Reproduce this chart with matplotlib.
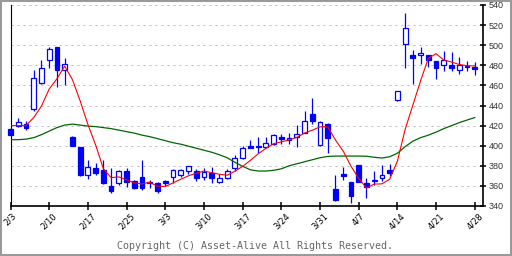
import numpy as np
import pandas as pd
import matplotlib
matplotlib.use("Agg")
import matplotlib.pyplot as plt
from matplotlib.patches import Rectangle

# daily candles
opens = [417, 420, 422, 437, 462, 485, 498, 475, 409, 399,
         371, 378, 376, 360, 363, 375, 365, 369, 364, 363,
         365, 369, 371, 375, 375, 369, 373, 364, 368, 378,
         388, 400, 399, 399, 402, 409, 406, 409, 413, 432,
         401, 422, 357, 372, 364, 381, 363, 365, 368, 376,
         445, 501, 490, 490, 490, 484, 480, 480, 475, 478,
         478]
highs = [418, 428, 425, 475, 485, 498, 498, 487, 410, 399,
         386, 383, 386, 378, 376, 378, 366, 386, 366, 364,
         366, 377, 377, 380, 377, 378, 379, 372, 377, 391,
         400, 406, 409, 409, 412, 412, 413, 421, 435, 447,
         425, 423, 371, 379, 364, 381, 368, 375, 381, 382,
         454, 532, 495, 498, 490, 484, 494, 493, 488, 484,
         483]
lows = [410, 419, 416, 435, 461, 477, 458, 460, 400, 370,
        367, 371, 362, 353, 361, 359, 357, 356, 358, 353,
        360, 363, 369, 372, 365, 366, 363, 363, 367, 375,
        387, 398, 393, 398, 401, 402, 402, 399, 413, 422,
        400, 393, 345, 366, 343, 364, 348, 361, 365, 370,
        444, 477, 461, 481, 478, 466, 474, 474, 471, 474,
        470]
closes = [411, 424, 418, 467, 477, 496, 475, 481, 400, 371,
          379, 373, 363, 355, 375, 364, 358, 358, 363, 355,
          363, 376, 376, 380, 368, 374, 368, 368, 375, 388,
          398, 398, 400, 403, 411, 407, 408, 412, 425, 425,
          424, 408, 346, 370, 350, 364, 359, 366, 371, 373,
          454, 517, 487, 492, 485, 477, 485, 477, 480, 479,
          476]
# closes before the first visible day (only feed the short average)
prior_closes = [424, 418, 427, 420]

# long moving average
ma_long = [406, 406, 406.5, 408, 411, 414.5, 418, 420.5, 421.5, 420.5,
           419.5, 419, 418, 417, 415.5, 414, 412.5, 410.5, 409, 407,
           405, 403, 401.5, 399.5, 397.5, 395.5, 393.5, 391, 388, 383.5,
           379.5, 376, 374.8, 374.8, 375.5, 377, 380, 382, 384, 386,
           388, 389.3, 389.7, 389.7, 389.7, 389.7, 389.5, 388.5, 387.7, 389,
           392.5, 399, 404.5, 408, 410.5, 413.5, 417, 420, 423, 425.5,
           428]

tick_labels = ["2/3", "2/10", "2/17", "2/25", "3/3", "3/10", "3/17",
               "3/24", "3/31", "4/7", "4/14", "4/21", "4/28"]
y_ticks = list(range(340, 541, 20))

BLUE = "#0000ff"

ma_short = (pd.Series(prior_closes + closes).rolling(5).mean()
            .iloc[len(prior_closes):].to_numpy())

fig = plt.figure(figsize=(5.12, 2.56), dpi=100)
ax = fig.add_axes([10.5 / 512, 50 / 256, 472 / 512, 201 / 256])

x = np.arange(len(closes))
w = 0.62
for i in x:
    o, h, l, c = opens[i], highs[i], lows[i], closes[i]
    ax.vlines(i, l, h, color=BLUE, lw=0.9, zorder=3, clip_on=False)
    lo, hi = min(o, c), max(o, c)
    up = c >= o
    ax.add_patch(Rectangle((i - w / 2, lo), w, max(hi - lo, 0.8),
                           facecolor="white" if up else BLUE,
                           edgecolor=BLUE, lw=0.9, zorder=4, clip_on=False))

ax.plot(x, ma_short, color="#ff0000", lw=0.8, zorder=6)
ax.plot(x, ma_long, color="#006600", lw=0.9, zorder=5)

for v in y_ticks[1:]:
    ax.axhline(v, color="#b8b8b8", lw=0.72, dashes=(2, 4), zorder=1)

ax.set_xlim(0, 61)
ax.set_ylim(340, 540)

ax.spines["top"].set_visible(False)
ax.spines["left"].set_linewidth(0.8)
ax.spines["bottom"].set_linewidth(1.2)
ax.spines["right"].set_linewidth(1.2)

ax.set_xticks(x[::5])
ax.set_xticklabels(tick_labels, rotation=45, ha="center", va="top",
                   fontsize=6, family="DejaVu Sans")
ax.tick_params(axis="x", direction="inout", length=6, width=1.1, pad=1)

ax.yaxis.tick_right()
ax.set_yticks(y_ticks)
ax.tick_params(axis="y", direction="inout", length=5, width=1.1, pad=2,
               labelsize=6.5, labelcolor="#333333")
for t in ax.get_yticklabels():
    t.set_family("Liberation Sans")

fig.text(0.498, 0.039, "Copyright (C) Asset-Alive All Rights Reserved.",
         family="DejaVu Sans Mono", fontsize=7.2, color="#666666",
         ha="center", va="center")

fig.patches.append(Rectangle((0, 0), 1, 1, transform=fig.transFigure,
                             fill=False, edgecolor="#999999", lw=2.9))

fig.savefig("out.png", dpi=100)
plt.close(fig)
